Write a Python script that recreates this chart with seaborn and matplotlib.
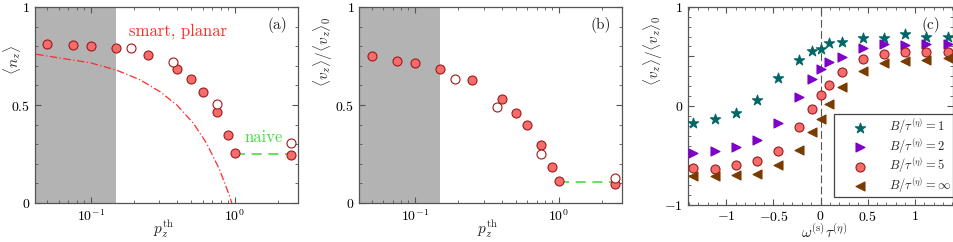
import numpy as np
import pandas as pd
import matplotlib
matplotlib.use("Agg")
import matplotlib.pyplot as plt
import matplotlib.ticker as mticker
import seaborn as sns

# ---------------- data ----------------
# panel (a) / (b): threshold p_z^th
p_filled = [0.05, 0.075, 0.1, 0.15, 0.25, 0.4, 0.5, 0.6, 0.75, 0.9, 1.0, 2.45]
nz_filled = [0.813, 0.808, 0.803, 0.79, 0.757, 0.686, 0.632, 0.569, 0.462, 0.346, 0.257, 0.246]
vz_filled = [0.75, 0.727, 0.712, 0.683, 0.63, 0.529, 0.458, 0.398, 0.296, 0.186, 0.113, 0.096]

p_open = [0.19, 0.37, 0.75, 2.45]
nz_open = [0.791, 0.718, 0.503, 0.308]
vz_open = [0.634, 0.491, 0.252, 0.13]

# dash-dot theory curve in (a)
p_curve = [0.0418, 0.1, 0.151, 0.221, 0.304, 0.396, 0.516, 0.637, 0.786, 0.922, 0.953]
nz_curve = [0.759, 0.715, 0.678, 0.628, 0.567, 0.5, 0.407, 0.305, 0.169, 0.034, 0.0]

# naive level
p_naive = [1.0, 2.45]
nz_naive = [0.25, 0.25]
vz_naive = [0.105, 0.105]

shade_limit = 0.15

# panel (c)
omega = [-1.35, -1.125, -0.9, -0.675, -0.45, -0.225, -0.09, 0.0, 0.09, 0.225, 0.45, 0.675, 0.9, 1.125, 1.35]
v_B1 = [-0.168, -0.134, -0.074, 0.06, 0.279, 0.463, 0.554, 0.577, 0.631, 0.648, 0.682, 0.688, 0.722, 0.698, 0.698]
v_B2 = [-0.48, -0.46, -0.42, -0.342, -0.168, 0.094, 0.272, 0.37, 0.446, 0.497, 0.581, 0.621, 0.614, 0.628, 0.628]
v_B5 = [-0.631, -0.638, -0.601, -0.557, -0.453, -0.218, -0.03, 0.111, 0.215, 0.346, 0.473, 0.52, 0.541, 0.541, 0.541]
v_Binf = [-0.712, -0.705, -0.702, -0.685, -0.601, -0.443, -0.265, -0.131, 0.023, 0.188, 0.352, 0.436, 0.453, 0.463, 0.48]
series_labels = [r"$B/\tau^{(\eta)} = 1$", r"$B/\tau^{(\eta)} = 2$",
                 r"$B/\tau^{(\eta)} = 5$", r"$B/\tau^{(\eta)} = \infty$"]

# ---------------- style ----------------
sns.set_theme(style="ticks")
plt.rcParams.update({
    "font.family": ["serif"],
    "font.serif": ["cmr10", "DejaVu Serif"],
    "mathtext.fontset": "cm",
    "axes.unicode_minus": False,
    "axes.formatter.use_mathtext": True,
    "font.size": 10,
    "axes.edgecolor": "#555555",
    "axes.linewidth": 0.9,
    "xtick.color": "#555555",
    "ytick.color": "#555555",
    "xtick.labelcolor": "black",
    "ytick.labelcolor": "black",
})

FILL = "#f36d6d"
EDGE = "#a01818"

fig = plt.figure(figsize=(9.54, 2.42), dpi=100)
axa = fig.add_axes([0.0367, 0.161, 0.2757, 0.810])
axb = fig.add_axes([0.3766, 0.161, 0.2754, 0.810])
axc = fig.add_axes([0.7209, 0.153, 0.2784, 0.819])

mfmt = mticker.FuncFormatter(lambda v, pos: "$%g$" % v if abs(v) > 1e-9 else "$0$")


def style_axis(ax):
    ax.tick_params(which="both", direction="in", top=True, right=True, labelsize=10)
    ax.tick_params(which="major", length=4, width=0.8)
    ax.tick_params(which="minor", length=2, width=0.6)


def log_panel(ax, yf, yo, ylab, tag, ylab_xy):
    xmin, xmax = 0.041, 2.75
    ax.set_xscale("log")
    ax.axvspan(xmin, shade_limit, color="#b3b3b3", lw=0, zorder=0)
    df_f = pd.DataFrame({"p": p_filled, "y": yf})
    df_o = pd.DataFrame({"p": p_open, "y": yo})
    sns.scatterplot(data=df_f, x="p", y="y", ax=ax, s=42, color=FILL,
                    edgecolor=EDGE, linewidth=0.8, zorder=3)
    sns.scatterplot(data=df_o, x="p", y="y", ax=ax, s=42, color="white",
                    edgecolor=EDGE, linewidth=0.8, zorder=3)
    ax.set_xlim(xmin, xmax)
    ax.set_ylim(0, 1)
    ax.yaxis.set_major_locator(mticker.MultipleLocator(0.5))
    ax.yaxis.set_minor_locator(mticker.MultipleLocator(0.1))
    ax.yaxis.set_major_formatter(mfmt)
    ax.xaxis.set_major_locator(mticker.LogLocator(base=10, numticks=10))
    ax.xaxis.set_minor_locator(mticker.LogLocator(base=10, subs=np.arange(2, 10), numticks=10))
    ax.xaxis.set_minor_formatter(mticker.NullFormatter())
    ax.set_xlabel(r"$p_z^{\rm th}$", fontsize=11)
    ax.xaxis.set_label_coords(0.49, -0.08)
    ax.set_ylabel(ylab, fontsize=11)
    ax.yaxis.set_label_coords(*ylab_xy)
    ax.text(0.958, 0.906, tag, transform=ax.transAxes, ha="right", va="center", fontsize=11)
    style_axis(ax)


log_panel(axa, nz_filled, nz_open, r"$\langle n_z \rangle$", "(a)", (-0.045, 0.73))
sns.lineplot(x=p_curve, y=nz_curve, ax=axa, color="#ff2a2a", lw=0.9, sort=False,
             linestyle=(0, (6, 2, 1, 2)), zorder=2)
sns.lineplot(x=p_naive, y=nz_naive, ax=axa, color="#44dd44", lw=1.2, sort=False,
             linestyle=(0, (6, 4)), zorder=2)
axa.text(0.545, 0.876, "smart, planar", color="#ff2a2a", fontsize=12, ha="center", va="center",
         transform=axa.transAxes)
axa.text(1.6, 0.335, "naive", color="#44dd44", fontsize=12, ha="center", va="center")

log_panel(axb, vz_filled, vz_open, r"$\langle v_z \rangle / \langle v_z \rangle_0$", "(b)",
          (-0.093, 0.77))
sns.lineplot(x=p_naive, y=vz_naive, ax=axb, color="#44dd44", lw=1.2, sort=False,
             linestyle=(0, (6, 4)), zorder=2)

# panel (c)
axc.axvline(0, color="#555555", lw=0.8, linestyle=(0, (7, 3)), zorder=1)
specs = [
    (v_B1, "*", "#006666", "#006666", 60),
    (v_B2, ">", "#7f00c8", "#7f00c8", 42),
    (v_B5, "o", FILL, EDGE, 42),
    (v_Binf, "<", "#7a3b00", "#7a3b00", 42),
]
for (vals, mk, fc, ec, sz), lab in zip(specs, series_labels):
    df = pd.DataFrame({"w": omega, "v": vals})
    sns.scatterplot(data=df, x="w", y="v", ax=axc, marker=mk, s=sz, color=fc,
                    edgecolor=ec, linewidth=0.8, label=lab, zorder=3)
axc.set_xlim(-1.41, 1.41)
axc.set_ylim(-1, 1)
axc.xaxis.set_major_locator(mticker.MultipleLocator(0.5))
axc.xaxis.set_minor_locator(mticker.MultipleLocator(0.1))
axc.yaxis.set_major_locator(mticker.MultipleLocator(0.5))
axc.yaxis.set_minor_locator(mticker.MultipleLocator(0.1))
axc.xaxis.set_major_formatter(mfmt)
axc.yaxis.set_major_formatter(mticker.FuncFormatter(
    lambda v, pos: "" if abs(abs(v) - 0.5) < 1e-9 else ("$%g$" % v if abs(v) > 1e-9 else "$0$")))
axc.set_xlabel(r"$\omega^{(\rm s)}\tau^{(\eta)}$", fontsize=11)
axc.xaxis.set_label_coords(0.512, -0.092)
axc.set_ylabel(r"$\langle v_z \rangle / \langle v_z \rangle_0$", fontsize=11)
axc.yaxis.set_label_coords(-0.085, 0.78)
axc.text(0.95, 0.908, "(c)", transform=axc.transAxes, ha="right", va="center", fontsize=11)
style_axis(axc)
leg = axc.legend(loc="lower right", bbox_to_anchor=(1.0, 0.04), borderaxespad=0,
                 fancybox=False, framealpha=1, edgecolor="#444444", fontsize=9,
                 handletextpad=0.4, borderpad=0.2, labelspacing=0.0, handlelength=3.8)
leg.get_frame().set_linewidth(0.9)

fig.savefig("out.png", dpi=100)
